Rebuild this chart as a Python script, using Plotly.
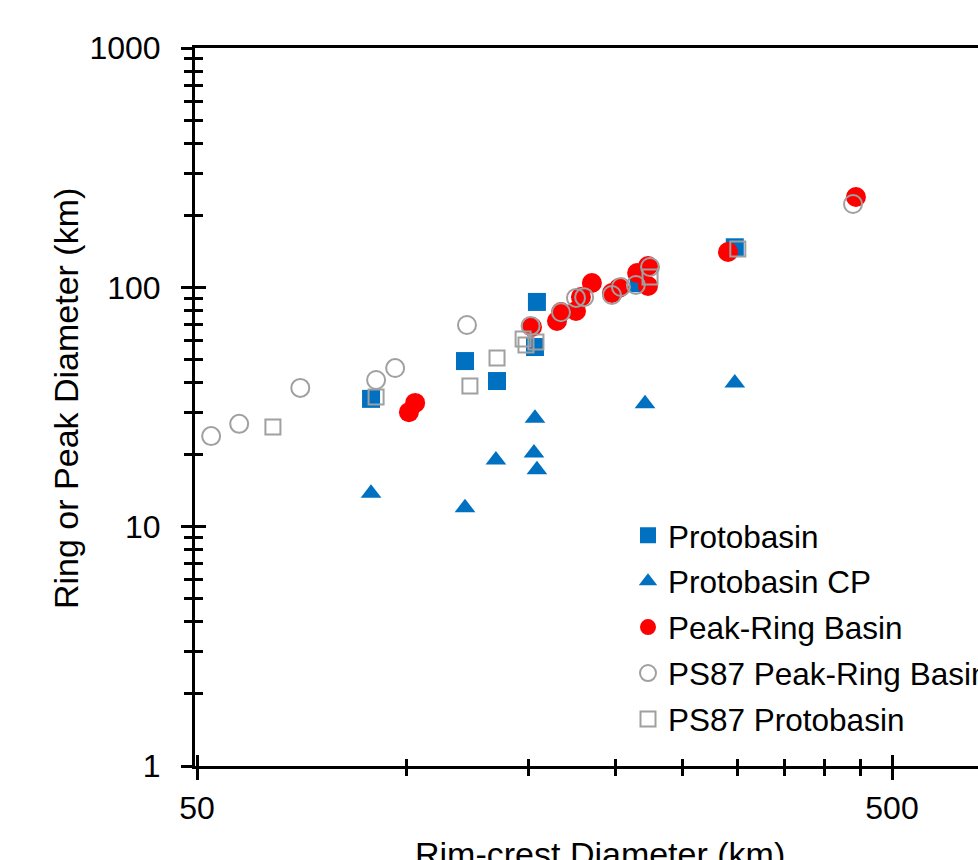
import math
import plotly.graph_objects as go

# ---------------- data ----------------
proto_x = [89.0, 121.5, 135.1, 154.2, 153.2, 216.0, 297.0]
proto_y = [34.2, 49.2, 40.6, 86.9, 56.3, 104.0, 147.0]

protocp_x = [89.0, 121.5, 134.6, 153.2, 152.7, 154.2, 220.6, 297.0]
protocp_y = [13.8, 12.0, 19.0, 28.4, 20.3, 17.3, 32.6, 39.8]

pr_x = [100.9, 103.0, 151.7, 164.8, 167.0, 175.5, 178.4, 185.0, 197.7, 202.4,
        214.9, 222.8, 222.8, 290.4, 443.7]
pr_y = [30.1, 32.9, 68.3, 72.3, 78.9, 79.6, 91.1, 104.3, 94.7, 99.4,
        114.8, 122.8, 101.3, 140.5, 238.5]

ps87pr_x = [52.4, 57.5, 70.4, 90.5, 96.4, 122.3, 151.0, 167.0, 175.5, 180.3,
            197.7, 203.7, 214.0, 224.3, 439.4]
ps87pr_y = [23.9, 26.9, 38.0, 41.0, 46.0, 69.6, 69.0, 78.7, 90.3, 91.0,
            92.9, 100.3, 102.3, 121.6, 223.0]

ps87p_x = [64.3, 90.5, 123.5, 135.1, 147.3, 148.7, 153.7, 224.3, 300.0]
ps87p_y = [26.1, 34.8, 38.7, 50.7, 60.8, 57.4, 59.1, 110.5, 144.6]

y_major = [1, 10, 100, 1000]
y_major_text = ["1", "10", "100", "1000"]
y_minor = [m * d for d in (1, 10, 100) for m in range(2, 10)]
x_major = [50, 500]
x_major_text = ["50", "500"]
x_minor = [100, 150, 200, 250, 300, 350, 400, 450]

FONT = "Liberation Sans, Arial, sans-serif"
BLUE = "#0070C0"
RED = "#FF0000"
GRAY = "#A0A0A0"

W, H = 978, 860
L, R, T, B = 195, 0, 48, 94
plot_w = W - L - R
x_lo = math.log10(50) - 2 / 695.0
x_hi = x_lo + plot_w / 695.0

fig = go.Figure()
fig.add_trace(go.Scatter(x=proto_x, y=proto_y, mode="markers", name="Protobasin",
                         legendgroup="a",
                         marker=dict(symbol="square", size=18, color=BLUE)))
fig.add_trace(go.Scatter(x=protocp_x, y=protocp_y, mode="markers", name="Protobasin CP",
                         legendgroup="b",
                         marker=dict(symbol="triangle-up", size=18, color=BLUE)))
fig.add_trace(go.Scatter(x=pr_x, y=pr_y, mode="markers", name="Peak-Ring Basin",
                         legendgroup="c",
                         marker=dict(symbol="circle", size=20, color=RED)))
fig.add_trace(go.Scatter(x=ps87pr_x, y=ps87pr_y, mode="markers", name="PS87 Peak-Ring Basin",
                         legendgroup="d",
                         marker=dict(symbol="circle-open", size=18, color=GRAY,
                                     line=dict(width=2, color=GRAY))))
fig.add_trace(go.Scatter(x=ps87p_x, y=ps87p_y, mode="markers", name="PS87 Protobasin",
                         legendgroup="e",
                         marker=dict(symbol="square-open", size=15, color=GRAY,
                                     line=dict(width=2, color=GRAY))))
# empty helper trace so the overlay axes (inner tick halves) are drawn
fig.add_trace(go.Scatter(x=[], y=[], xaxis="x2", yaxis="y2", showlegend=False,
                         hoverinfo="skip"))

tickfont = dict(family=FONT, size=32, color="black")

fig.update_layout(
    width=W, height=H,
    margin=dict(l=L, r=R, t=T, b=B, pad=0, autoexpand=False),
    paper_bgcolor="white", plot_bgcolor="white",
    font=dict(family=FONT, color="black"),
    showlegend=True,
    legend=dict(x=(628 - L) / plot_w, y=0.359, xanchor="left", yanchor="top",
                font=dict(family=FONT, size=31.5, color="black"),
                bgcolor="rgba(0,0,0,0)", tracegroupgap=2, itemwidth=30),
    xaxis=dict(type="log", range=[x_lo, x_hi], showgrid=False, zeroline=False,
               showline=True, linewidth=3, linecolor="black", mirror=True,
               ticks="outside", ticklen=11, tickwidth=2.5, tickcolor="black",
               tickmode="array", tickvals=x_major, ticktext=x_major_text,
               tickfont=tickfont, ticklabelstandoff=1,
               minor=dict(ticks="outside", ticklen=7, tickwidth=2.5, tickcolor="black",
                          tickmode="array", tickvals=x_minor, showgrid=False)),
    yaxis=dict(type="log", range=[0, 3], showgrid=False, zeroline=False,
               showline=True, linewidth=3, linecolor="black", mirror=False,
               ticks="outside", ticklen=11, tickwidth=2.5, tickcolor="black",
               tickmode="array", tickvals=y_major, ticktext=y_major_text,
               tickfont=tickfont, ticklabelstandoff=14,
               minor=dict(ticks="outside", ticklen=8, tickwidth=2.5, tickcolor="black",
                          tickmode="array", tickvals=y_minor, showgrid=False)),
    xaxis2=dict(type="log", range=[x_lo, x_hi], overlaying="x", anchor="y2",
                side="bottom", showgrid=False, zeroline=False, showline=False,
                ticks="inside", ticklen=11, tickwidth=2.5, tickcolor="black",
                tickmode="array", tickvals=x_major, showticklabels=False,
                minor=dict(ticks="inside", ticklen=7, tickwidth=2.5, tickcolor="black",
                           tickmode="array", tickvals=x_minor, showgrid=False)),
    yaxis2=dict(type="log", range=[0, 3], overlaying="y", anchor="x2",
                side="left", showgrid=False, zeroline=False, showline=False,
                ticks="inside", ticklen=11, tickwidth=2.5, tickcolor="black",
                tickmode="array", tickvals=y_major, showticklabels=False,
                minor=dict(ticks="inside", ticklen=8, tickwidth=2.5, tickcolor="black",
                           tickmode="array", tickvals=y_minor, showgrid=False)),
    annotations=[
        dict(text="Rim-crest Diameter (km)", xref="paper", yref="paper",
             x=(600 - L) / plot_w, y=-(833 - 766) / 718.0, xanchor="center", yanchor="top",
             showarrow=False, font=dict(family=FONT, size=34, color="black")),
        dict(text="Ring or Peak Diameter (km)", xref="paper", yref="paper",
             x=(66 - L) / plot_w, y=(766 - 399) / 718.0, xanchor="center", yanchor="middle",
             textangle=-90, showarrow=False, font=dict(family=FONT, size=34, color="black")),
    ],
)

post = ("document.documentElement.style.overflow='hidden';"
        "document.body.style.overflow='hidden';"
        "document.body.style.margin='0';")
fig.write_html("out.html", post_script=post)
